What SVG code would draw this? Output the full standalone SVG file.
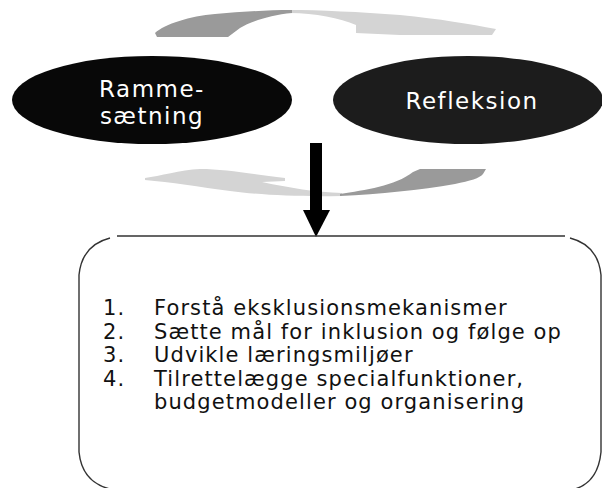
<svg xmlns="http://www.w3.org/2000/svg" width="602" height="488" viewBox="0 0 602 488">
<style>
.lbl{font-family:"DejaVu Sans","Verdana",sans-serif;font-size:23px;letter-spacing:1.5px;fill:#ffffff;text-anchor:middle}
.item{font-family:"DejaVu Sans","Verdana",sans-serif;font-size:21px;letter-spacing:1.1px;fill:#111111}
.dark{fill:#9a9a9a}
.light{fill:#d4d4d4}
</style>
<rect width="602" height="488" fill="#ffffff"/>
<g id="cycle-top">
<path class="light" d="M288,10 C320,10 360,12 400,15 C440,19 470,24 496,29 L492,35 L400,35 L356,33 L356,25 C340,18 315,13 290,13 Z"/>
<path class="dark" d="M155,33 C165,24 190,16 215,14 C240,12 265,10 292,10 L292,13 C270,15 250,22 240,28 L228,37 L157,37 Z"/>
</g>
<g id="cycle-bottom">
<path class="light" d="M145,178 C160,176 180,170 200,169 C225,169 250,174 285,178 L285,181 L262,182 C290,188 315,192 342,193 L342,196 C300,197 260,195 230,191 C200,187 170,182 145,180 Z"/>
<path class="dark" d="M340,194 C365,190 395,186 413,172 L420,169 L486,169 L483,174 C480,178 470,181 455,184 C420,190 380,194 340,196 Z"/>
</g>
<g id="node-rammesaetning">
<ellipse cx="152" cy="100" rx="140" ry="44" fill="#080808"/>
<text class="lbl" x="152" y="97">Ramme-</text>
<text class="lbl" x="152" y="124">sætning</text>
</g>
<g id="node-refleksion">
<ellipse cx="468" cy="100" rx="135" ry="44" fill="#1c1c1c"/>
<text class="lbl" x="472" y="109">Refleksion</text>
</g>
<g id="connectors">
<rect x="310" y="143" width="12" height="68" fill="#000000"/>
<polygon points="303,210 330,210 316,237" fill="#000000"/>
</g>
<g id="node-list">
<path d="M117,236 L565,236 M570,238 Q598,245 601,275 L601,452 M601,452 Q598,482 575,489 M110,489 Q82,482 79,452 L79,275 Q82,245 110,238" fill="none" stroke="#333333" stroke-width="1.4"/>
<text class="item" x="103" y="315">1.</text>
<text class="item" x="154" y="315">Forstå eksklusionsmekanismer</text>
<text class="item" x="103" y="338.5">2.</text>
<text class="item" x="154" y="338.5">Sætte mål for inklusion og følge op</text>
<text class="item" x="103" y="362">3.</text>
<text class="item" x="154" y="362">Udvikle læringsmiljøer</text>
<text class="item" x="103" y="385.5">4.</text>
<text class="item" x="154" y="385.5">Tilrettelægge specialfunktioner,</text>
<text class="item" x="154" y="409">budgetmodeller og organisering</text>
</g>
</svg>
